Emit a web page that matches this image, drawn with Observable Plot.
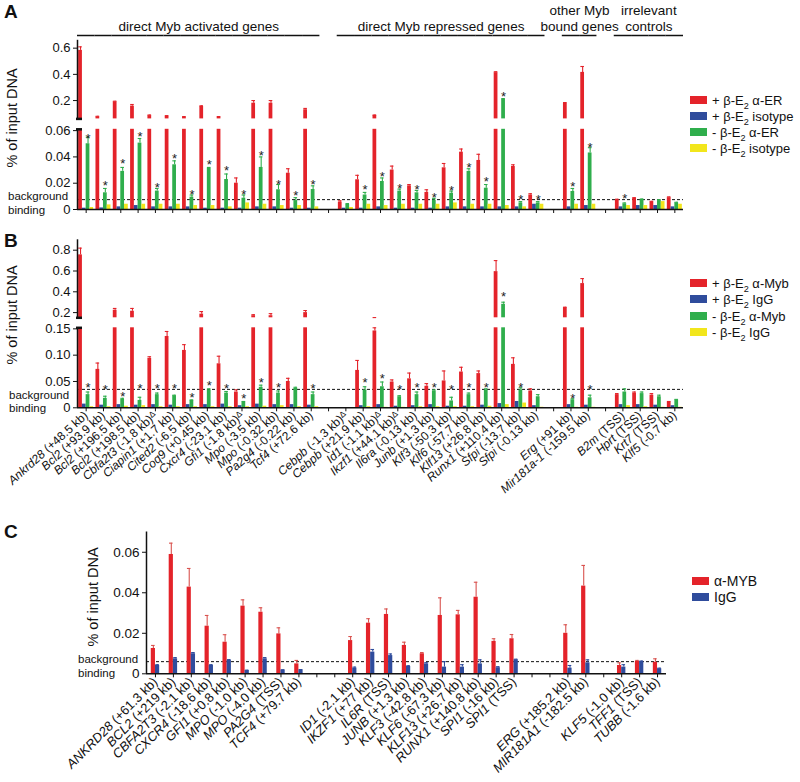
<!DOCTYPE html>
<html>
<head>
<meta charset="utf-8">
<script src="https://cdn.jsdelivr.net/npm/d3@7"></script>
<script src="https://cdn.jsdelivr.net/npm/@observablehq/plot@0.6"></script>
<style>
  html, body { margin:0; padding:0; background:#fff; }
  #root { position:relative; width:800px; height:782px; overflow:hidden; font-family:"Liberation Sans", Arial, Helvetica, sans-serif; color:#111; background:#fff; }
  #root svg { position:absolute; left:0; overflow:visible; background:transparent; }
  .t { position:absolute; white-space:nowrap; line-height:1; }
  .sw { position:absolute; width:17px; height:8px; }
</style>
</head>
<body>
<div id="root"></div>
<script>
// ---------------- DATA ----------------
// Panels A & B: mouse loci (null = spacer slot)
const genesAB = [
  "Ankrd28 (+48.5 kb)","Bcl2 (+93.9 kb)","Bcl2 (+196.5 kb)","Bcl2 (+198.5 kb)","Cbfa2t3 (-1.8 kb)Δ","Ciapin1 (+1.7 kb)","Cited2 (-6.5 kb)","Coq9 (+0.45 kb)","Cxcr4 (-23.1 kb)","Gfi1 (-1.8 kb)Δ","Mpo (-3.5 kb)","Mpo (-0.32 kb)","Pa2g4 (-0.22 kb)","Tcf4 (+72.6 kb)",
  null,
  "Cebpb (-1.3 kb)Δ","Cebpb (+21.9 kb)","Id1 (-1.1 kb)Δ","Ikzf1 (+44.1 kb)Δ","Il6ra (-0.13 kb)","Junb (+1.3 kb)","Klf3 (-50.3 kb)","Klf6 (-57.7 kb)","Klf13 (+26.8 kb)","Runx1 (+110.4 kb)","Sfpi (-13.7 kb)","Sfpi (-0.13 kb)",
  null,
  "Erg (+91 kb)","Mir181a-1 (-159.5 kb)",
  null,
  "B2m (TSS)","Hprt (TSS)","Krt7 (TSS)","Klf5 (-0.7 kb)"
];
const groupTitleRow1 = [null, null, "other Myb", "irrelevant"];
const groupTitleRow2 = ["direct Myb activated genes","direct Myb repressed genes","bound genes","controls"];
const groupStart = [0, 15, 28, 31];
const groupEnd   = [13, 26, 29, 34];

// Panel A (% of input DNA)
const aRed      = [0.583,0.075,0.19,0.158,0.085,0.08,0.073,0.155,0.073,0.020,0.18,0.18,0.0276,0.13, null, 0.0056,0.0226,0.086,0.030,0.018,0.013,0.0317,0.0436,0.0373,0.413,0.0327,0.011, null, 0.18,0.415, null, 0.0074,0.0086,0.0056,0.009];
const aRedErr   = [0.61,0.08,0.195,0.17,0.09,0.085,0.078,0.16,0.078,0.024,0.2,0.2,0.031,0.14, null, 0.0066,0.026,0.09,0.033,0.019,0.015,0.035,0.046,0.042,0.42,0.034,0.012, null, 0.185,0.46, null, 0.0078,0.009,0.0062,0.0096];
const aBlue     = [0.001,0.0012,0.002,0.003,0.002,0.002,0.002,0.001,0.001,0.001,0.002,0.002,0.001,0.001, null, 0.001,0.001,0.002,0.001,0.001,0.001,0.002,0.002,0.002,0.002,0.002,0.004, null, 0.002,0.003, null, 0.002,0.003,0.003,0.002];
const aGreen    = [0.050,0.0127,0.029,0.0505,0.014,0.034,0.0094,0.0314,0.0228,0.0086,0.032,0.015,0.0068,0.0152, null, 0.0038,0.011,0.0213,0.014,0.0127,0.0071,0.0124,0.029,0.0162,0.21,0.005,0.005, null, 0.0137,0.043, null, 0.0043,0.0076,0.0068,0.005];
const aGreenErr = [0.055,0.016,0.032,0.054,0.016,0.037,0.011,0.032,0.027,0.011,0.04,0.019,0.009,0.018, null, 0.0045,0.013,0.024,0.0155,0.0145,0.0085,0.014,0.031,0.019,0.215,0.006,0.006, null, 0.016,0.047, null, 0.005,0.008,0.0075,0.0055];
const aYellow   = [0.0015,0.0035,0.004,0.004,0.004,0.004,0.003,0.003,0.002,0.005,0.004,0.003,0.003,0.002, null, 0.0015,0.004,0.003,0.004,0.004,0.004,0.005,0.004,0.004,0.003,0.002,0.004, null, 0.004,0.004, null, 0.003,0.003,0.006,0.004];
const aStar     = [0.0563,0.020,0.0367,0.0576,0.0188,0.041,0.0137,0.036,0.0314,0.0132,0.0428,0.0213,0.0124,0.0213, null, null,0.017,0.0271,0.0183,0.017,0.0112,0.0162,0.034,0.0233,0.251,0.0099,0.0099, null, 0.0195,0.0492, null, 0.0106,null,null,null];
const aBackground = 0.0075;

// Panel B
const bRed      = [0.755,0.073,0.223,0.213,0.094,0.1355,0.109,0.185,0.0836,0.03,0.17,0.17,0.05,0.2, null, null,0.071,0.146,0.049,0.055,0.041,0.051,0.068,0.065,0.594,0.0825,0.032, null, 0.248,0.479, null, 0.025,0.028,0.024,0.011];
const bRedErr   = [0.82,0.085,0.24,0.24,0.097,0.145,0.12,0.21,0.098,0.034,0.18,0.19,0.056,0.22, null, null,0.09,0.152,0.053,0.066,0.046,0.07,0.077,0.07,0.70,0.095,0.036, null, 0.252,0.527, null, 0.027,0.03,0.027,0.012];
const bBlue     = [0.007,0.005,0.006,0.005,0.006,0.005,0.006,0.006,0.007,0.004,0.007,0.006,0.006,0.005, null, null,0.004,0.006,0.003,0.004,0.006,0.003,0.003,0.005,0.008,0.012,0.004, null, 0.006,0.005, null, 0.006,0.006,0.005,0.004];
const bGreen    = [0.025,0.018,0.016,0.014,0.025,0.023,0.014,0.034,0.028,0.011,0.039,0.028,0.037,0.025, null, null,0.034,0.04,0.021,0.025,0.032,0.013,0.025,0.034,0.28,0.034,0.021, null, 0.015,0.019, null, 0.030,0.027,0.021,0.015];
const bGreenErr = [0.03,0.022,0.018,0.02,0.028,0.024,0.015,0.036,0.031,0.012,0.043,0.032,0.039,0.03, null, null,0.04,0.049,0.023,0.03,0.034,0.02,0.028,0.036,0.30,0.038,0.025, null, 0.017,0.024, null, 0.036,0.03,0.024,0.016];
const bYellow   = [0.002,0.002,0.003,0.004,0.002,0.002,0.002,0.002,0.002,0.002,0.003,0.004,0.002,0.002, null, null,0.002,0.001,0.001,0.002,0.002,0.002,0.002,0.003,0.006,0.009,0.001, null, 0.001,0.001, null, 0.004,0.002,0.001,0.001];
const bStar     = [0.0443,0.0405,0.0266,0.041,0.0424,0.0424,0.0247,0.0468,0.041,0.022,0.053,0.0437,null,0.0424, null, null,0.0527,0.060,0.040,0.0445,0.043,0.040,0.043,0.0445,0.383,0.043,null, null, 0.0236,0.040, null, null,null,null,null];
const bBackground = 0.035;

// Panel C: human loci
const genesC = [
  "ANKRD28 (+61.3 kb)","BCL2 (+219 kb)","CBFA2T3 (-2.1 kb)","CXCR4 (-18.6 kb)","GFI1 (+0.8 kb)","MPO (-1.0 kb)","MPO (-4.0 kb)","PA2G4 (TSS)","TCF4 (+79.7 kb)",
  null, null,
  "ID1 (-2.1 kb)","IKZF1 (+77 kb)","IL6R (TSS)","JUNB (+1.3 kb)","KLF3 (-42.8 kb)","KLF6 (-67.3 kb)","KLF13 (+26.7 kb)","RUNX1 (+140.8 kb)","SPI1 (-16 kb)","SPI1 (TSS)",
  null, null,
  "ERG (+185.2 kb)","MIR181A1 (-182.5 kb)",
  null,
  "KLF5 (-1.0 kb)","TFF1 (TSS)","TUBB (-1.6 kb)"
];
const cRed     = [0.0125,0.0589,0.0428,0.0235,0.0156,0.0334,0.0304,0.0197,0.0049, null,null, 0.0164,0.025,0.0293,0.014,0.0099,0.0288,0.0291,0.0378,0.016,0.0173, null,null, 0.020,0.0433, null, 0.0041,0.0061,0.0057];
const cRedErr  = [0.014,0.0645,0.052,0.0288,0.0193,0.0365,0.0326,0.0227,0.0066, null,null, 0.0184,0.0272,0.032,0.0156,0.0105,0.0375,0.0313,0.0452,0.0173,0.0194, null,null, 0.0242,0.0535, null, 0.0054,0.0066,0.0074];
const cBlue    = [0.0041,0.0074,0.0099,0.0041,0.0066,0.0016,0.0074,0.0018,0.0019, null,null, 0.0028,0.0107,0.009,0.0036,0.0049,0.0033,0.0033,0.0049,0.003,0.0069, null,null, 0.0028,0.0054, null, 0.0033,0.0061,0.0025];
const cBlueErr = [0.0045,0.008,0.0105,0.0045,0.007,0.0018,0.008,0.002,0.0021, null,null, 0.0033,0.012,0.0098,0.004,0.0055,0.006,0.0045,0.0069,0.0035,0.0072, null,null, 0.0041,0.0069, null, 0.0045,0.0063,0.0028];
const cBackground = 0.006;

// ---------------- STYLE ----------------
const FONT = '"Liberation Sans", Arial, Helvetica, sans-serif';
const RED = "#e4232a", BLUE = "#2f4c9c", GREEN = "#2fae4c", YELLOW = "#f2e61c";
const root = document.getElementById("root");

const rowsA = genesAB.map((g, i) => ({i, red: aRed[i], redErr: aRedErr[i], blue: aBlue[i], green: aGreen[i], greenErr: aGreenErr[i], yellow: aYellow[i], star: aStar[i]}));
const rowsB = genesAB.map((g, i) => ({i, red: bRed[i], redErr: bRedErr[i], blue: bBlue[i], green: bGreen[i], greenErr: bGreenErr[i], yellow: bYellow[i], star: bStar[i]}));
const rowsC = genesC.map((g, i) => ({i, red: cRed[i], redErr: cRedErr[i], blue: cBlue[i], blueErr: cBlueErr[i]}));

const seriesAB = [
  {key: "red", err: "redErr", color: RED},
  {key: "blue", color: BLUE},
  {key: "green", err: "greenErr", color: GREEN, star: "star"},
  {key: "yellow", color: YELLOW}
];
const seriesC = [
  {key: "red", err: "redErr", color: RED, errColor: "#d9534f"},
  {key: "blue", err: "blueErr", color: BLUE}
];

function styleLabels(svg, labels, fontSize) {
  const set = new Set(labels.filter(Boolean));
  svg.querySelectorAll("text").forEach(t => {
    const s = t.textContent;
    if (!set.has(s)) return;
    const m = s.match(/^(\S+)(.*?)(Δ?)$/);
    while (t.firstChild) t.removeChild(t.firstChild);
    t.style.fontSize = fontSize + "px";
    const ns = "http://www.w3.org/2000/svg";
    const a = document.createElementNS(ns, "tspan");
    a.setAttribute("font-style", "italic"); a.textContent = m[1]; t.appendChild(a);
    const b = document.createElementNS(ns, "tspan");
    b.textContent = m[2]; t.appendChild(b);
    if (m[3]) {
      const c = document.createElementNS(ns, "tspan");
      c.setAttribute("font-size", (fontSize * 0.7) + "px");
      c.setAttribute("dy", "-3");
      c.textContent = m[3]; t.appendChild(c);
    }
  });
}

function makePlot(cfg) {
  const {top, height, yTopPx, yBotPx, domain, xRange, labels, rows, series, groupWidth, yTicks, yFmt, xMode, bg, breakLo, breakHi, tickFont, labelFont, rotate} = cfg;
  const n = labels.length;
  const bw = (xRange[1] - xRange[0]) / n;
  const k = series.length, sw = groupWidth / k, o = (bw - groupWidth) / 2;
  const [lo, hi] = domain;
  const marks = [];
  if (bg != null) marks.push(Plot.ruleY([bg], {stroke: "#111", strokeWidth: 1, strokeDasharray: "3,2"}));
  series.forEach((s, si) => {
    const left = o + si * sw, right = bw - left - sw, dx = left + sw / 2 - bw / 2;
    const bars = rows.filter(r => r[s.key] != null && r[s.key] > lo);
    marks.push(Plot.barY(bars, {x: "i", y1: () => lo, y2: r => Math.min(r[s.key], hi), fill: s.color, insetLeft: left, insetRight: right}));
    if (s.err) {
      const ec = s.errColor || s.color;
      const e = rows.filter(r => r[s.err] != null && r[s.key] != null && r[s.err] > lo && r[s.key] < hi);
      marks.push(Plot.ruleX(e, {x: "i", y1: r => Math.max(r[s.key], lo), y2: r => Math.min(r[s.err], hi), stroke: ec, strokeWidth: 1.1, dx}));
      marks.push(Plot.tickY(e.filter(r => r[s.err] <= hi), {x: "i", y: s.err, stroke: ec, strokeWidth: 1.1, insetLeft: left + sw / 2 - 1.8, insetRight: right + sw / 2 - 1.8}));
    }
    if (s.star) {
      const st = rows.filter(r => r[s.star] != null && r[s.star] > lo && r[s.star] <= hi);
      marks.push(Plot.text(st, {x: "i", y: s.star, text: () => "*", dx, dy: 3, fontSize: 13, fill: "#222"}));
    }
  });
  marks.push(Plot.ruleX([0], {dx: -bw / 2, stroke: "#111", strokeWidth: 1.5}));
  if (lo === 0) marks.push(Plot.ruleY([0], {stroke: "#111", strokeWidth: 1.5}));
  if (breakLo) marks.push(Plot.tickY([lo], {x: () => 0, stroke: "#111", strokeWidth: 2.5, insetLeft: -1, insetRight: bw - 5}));
  if (breakHi) marks.push(Plot.tickY([hi], {x: () => 0, stroke: "#111", strokeWidth: 2.5, insetLeft: -1, insetRight: bw - 5}));

  let xOpt = {type: "band", domain: d3.range(n), padding: 0, round: false};
  if (xMode === "none") xOpt.axis = null;
  else if (xMode === "ticks") Object.assign(xOpt, {tickSize: 4, tickFormat: () => "", label: null});
  else Object.assign(xOpt, {tickSize: 4, tickPadding: 2, tickRotate: rotate, tickFormat: i => labels[i] ?? "", label: null});

  const svg = Plot.plot({
    width: 800, height,
    marginLeft: xRange[0], marginRight: 800 - xRange[1],
    marginTop: yTopPx - top, marginBottom: top + height - yBotPx,
    style: {fontSize: tickFont + "px", fontFamily: FONT, background: "transparent", color: "#111", overflow: "visible"},
    x: xOpt,
    y: {domain: [lo, hi], ticks: yTicks, tickFormat: yFmt, tickSize: 4, tickPadding: 3, label: null},
    marks
  });
  svg.style.top = top + "px";
  if (xMode === "labels") styleLabels(svg, labels, labelFont);
  root.appendChild(svg);
  return svg;
}

const fmt1 = d => d === 0 ? "0" : d3.format(".1f")(d);
const fmt2 = d => d === 0 ? "0" : d3.format(".2f")(d);
const XR_AB = [77, 683];
const XR_C = [146, 666];

// ---------- Panel A header (group titles with underlines) ----------
(function () {
  const n = genesAB.length, bw = (XR_AB[1] - XR_AB[0]) / n;
  const lineSlots = genesAB.map((g, i) => ({i, g})).filter(d => d.g != null);
  const t1 = groupTitleRow1.map((t, j) => ({text: t, at: (groupStart[j] + groupEnd[j] + 1) / 2})).filter(d => d.text);
  const t2 = groupTitleRow2.map((t, j) => ({text: t, at: (groupStart[j] + groupEnd[j] + 1) / 2}));
  // header rows: row1 = 0, row2 = 1, underline = 1.5625 (in text-line units)
  const svg = Plot.plot({
    width: 800, height: 38, marginLeft: XR_AB[0], marginRight: 800 - XR_AB[1], marginTop: 10, marginBottom: 3,
    style: {fontSize: "13.5px", fontFamily: FONT, background: "transparent", color: "#111", overflow: "visible"},
    x: {type: "band", domain: d3.range(n), padding: 0, round: false, axis: null},
    y: {type: "linear", domain: [0, 1.5625], reverse: true, axis: null},
    marks: [
      Plot.tickY(lineSlots, {x: "i", y: () => 1.5625, stroke: "#111", strokeWidth: 1.5}),
      Plot.text(t1, {x: "at", y: () => 0, text: "text", dx: -bw / 2, fontSize: 13.5, fill: "#111"}),
      Plot.text(t2, {x: "at", y: () => 1, text: "text", dx: -bw / 2, fontSize: 13.5, fill: "#111"})
    ]
  });
  svg.style.top = "0px";
  root.appendChild(svg);
})();

// ---------- Panel A ----------
makePlot({top: 36, height: 88, yTopPx: 39.8, yBotPx: 118.4, domain: [0.06, 0.66], xRange: XR_AB, labels: genesAB, rows: rowsA, series: seriesAB, groupWidth: 15, yTicks: [0.2, 0.4, 0.6], yFmt: fmt1, xMode: "none", breakLo: true, tickFont: 13});
makePlot({top: 124, height: 96, yTopPx: 128.8, yBotPx: 209, domain: [0, 0.061], xRange: XR_AB, labels: genesAB, rows: rowsA, series: seriesAB, groupWidth: 15, yTicks: [0, 0.02, 0.04, 0.06], yFmt: fmt2, xMode: "ticks", bg: aBackground, breakHi: true, tickFont: 13});

// ---------- Panel B ----------
makePlot({top: 230, height: 92, yTopPx: 239.3, yBotPx: 317.3, domain: [0.15, 0.9], xRange: XR_AB, labels: genesAB, rows: rowsB, series: seriesAB, groupWidth: 15, yTicks: [0.2, 0.4, 0.6, 0.8], yFmt: fmt1, xMode: "none", breakLo: true, tickFont: 13});
makePlot({top: 322, height: 198, yTopPx: 327.3, yBotPx: 407.3, domain: [0, 0.152], xRange: XR_AB, labels: genesAB, rows: rowsB, series: seriesAB, groupWidth: 15, yTicks: [0, 0.05, 0.10, 0.15], yFmt: fmt2, xMode: "labels", rotate: -42, labelFont: 12, bg: bBackground, breakHi: true, tickFont: 13});

// ---------- Panel C ----------
makePlot({top: 522, height: 260, yTopPx: 531.5, yBotPx: 673.3, domain: [0, 0.07], xRange: XR_C, labels: genesC, rows: rowsC, series: seriesC, groupWidth: 8.4, yTicks: [0, 0.02, 0.04, 0.06], yFmt: fmt2, xMode: "labels", rotate: -45, labelFont: 13, bg: cBackground, tickFont: 13.5});

// ---------- HTML text (letters, titles, legends) ----------
function txt(html, x, y, fs, extra = {}) {
  const d = document.createElement("div");
  d.className = "t";
  d.innerHTML = html;
  d.style.fontSize = fs + "px";
  d.style.left = x + "px";
  d.style.top = (y - fs / 2) + "px";
  Object.assign(d.style, extra);
  root.appendChild(d);
  return d;
}
function vtitle(text, cx, cy, fs) {
  const d = document.createElement("div");
  d.className = "t";
  d.textContent = text;
  d.style.fontSize = fs + "px";
  d.style.left = cx + "px";
  d.style.top = cy + "px";
  d.style.transform = "translate(-50%,-50%) rotate(-90deg)";
  root.appendChild(d);
}
function legend(items, x, ys, fs) {
  items.forEach((it, j) => {
    const s = document.createElement("div");
    s.className = "sw";
    s.style.left = x + "px";
    s.style.top = (ys[j] - 4) + "px";
    s.style.background = it.color;
    root.appendChild(s);
    txt(it.label, x + 22, ys[j], fs);
  });
}

txt("A", 4, 11, 19, {fontWeight: "bold"});
txt("B", 4, 240, 19, {fontWeight: "bold"});
txt("C", 4, 531, 19, {fontWeight: "bold"});

vtitle("% of input DNA", 12, 118, 14.5);
vtitle("% of input DNA", 12, 315, 14.5);
vtitle("% of input DNA", 93, 597, 14.5);

txt("background", 8, 196.5, 11.5); txt("binding", 8, 210.5, 11.5);
txt("background", 9, 395.5, 11.5); txt("binding", 9, 408.5, 11.5);
txt("background", 78, 659.5, 11.5); txt("binding", 78, 673.5, 11.5);

legend([
  {label: "+ β-E<sub style='font-size:70%'>2</sub> α-ER", color: RED},
  {label: "+ β-E<sub style='font-size:70%'>2</sub> isotype", color: BLUE},
  {label: "- β-E<sub style='font-size:70%'>2</sub> α-ER", color: GREEN},
  {label: "- β-E<sub style='font-size:70%'>2</sub> isotype", color: YELLOW}
], 690, [100, 116, 132, 148], 13);
legend([
  {label: "+ β-E<sub style='font-size:70%'>2</sub> α-Myb", color: RED},
  {label: "+ β-E<sub style='font-size:70%'>2</sub> IgG", color: BLUE},
  {label: "- β-E<sub style='font-size:70%'>2</sub> α-Myb", color: GREEN},
  {label: "- β-E<sub style='font-size:70%'>2</sub> IgG", color: YELLOW}
], 690, [283, 299, 316, 332], 13);
legend([
  {label: "α-MYB", color: RED},
  {label: "IgG", color: BLUE}
], 692, [581, 597], 14);
</script>
</body>
</html>
